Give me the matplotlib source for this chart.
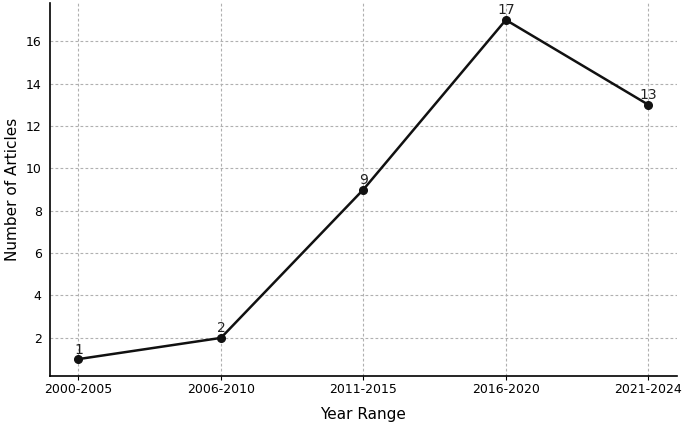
import matplotlib.pyplot as plt

# data
year_ranges = ["2000-2005", "2006-2010", "2011-2015", "2016-2020", "2021-2024"]
article_counts = [1, 2, 9, 17, 13]

fig = plt.figure(figsize=(6.85, 4.23), dpi=100)
ax = fig.add_axes([0.073, 0.111, 0.915, 0.882])

ax.plot(year_ranges, article_counts, color="#111111", linewidth=1.8,
        marker="o", markersize=5.5)

for x, y in zip(year_ranges, article_counts):
    ax.annotate(str(y), (x, y), textcoords="offset points", xytext=(0, 4),
                ha="center", fontsize=10, color="#222222")

ax.set_xlabel("Year Range", fontsize=11, labelpad=8)
ax.set_ylabel("Number of Articles", fontsize=11)
ax.set_yticks([2, 4, 6, 8, 10, 12, 14, 16])
ax.tick_params(axis="y", length=0, labelsize=9, pad=6)
ax.tick_params(axis="x", length=3, labelsize=9, pad=2)
ax.grid(True, linestyle=(0, (2.5, 2)), color="#b0b0b0", linewidth=0.8)
ax.set_axisbelow(True)
ax.spines["top"].set_visible(False)
ax.spines["right"].set_visible(False)
ax.spines["left"].set_linewidth(1.2)
ax.spines["bottom"].set_linewidth(1.2)

fig.savefig("out.png", dpi=100)
